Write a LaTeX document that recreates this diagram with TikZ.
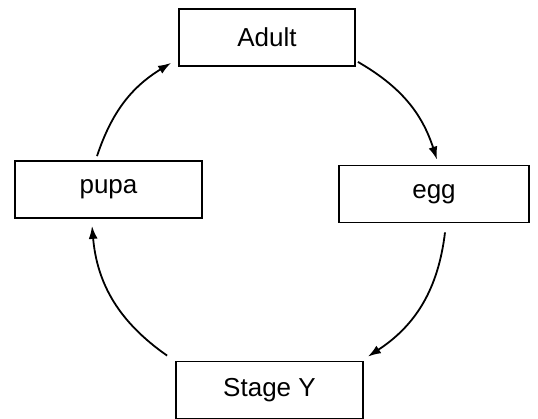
\documentclass[tikz,border=0pt]{standalone}
\usepackage{fontspec}
\setmainfont{Liberation Sans}
\usetikzlibrary{arrows.meta}

\begin{document}
\begin{tikzpicture}[
        x=1pt, y=-1pt,
        every node/.style={font=\fontsize{26}{30}\selectfont},
        stage/.style={rectangle, draw, line width=1.8pt, minimum height=57pt, inner sep=0pt},
        arrow/.style={-{Latex[length=13pt,width=9pt]}, line width=1.8pt}
    ]
        \useasboundingbox (0,0) rectangle (538,419);

        \node[stage, minimum width=176pt] (adult) at (267,37.5) {Adult};
        \node[stage, minimum width=190pt] (egg) at (434,194) {egg};
        \node[stage, minimum width=187pt] (stagey) at (269.5,390) {Stage Y};
        \node[stage, minimum width=187pt] (pupa) at (108.5,189.5) {pupa};

        % the cycle, clockwise
        \draw[arrow] ([shift={(2,-5)}]adult.south east) to[bend left=21] ([shift={(3,-5)}]egg.north);
        \draw[arrow] ([shift={(11,9)}]egg.south) to[bend left=25] ([shift={(4,-4)}]stagey.north east);
        \draw[arrow] ([shift={(-8,-5)}]stagey.north west) to[bend left=25] ([shift={(-16.5,7)}]pupa.south);
        \draw[arrow] ([shift={(-11.5,-4)}]pupa.north) to[bend left=20] ([shift={(-7,-4)}]adult.south west);
    \end{tikzpicture}
\end{document}
